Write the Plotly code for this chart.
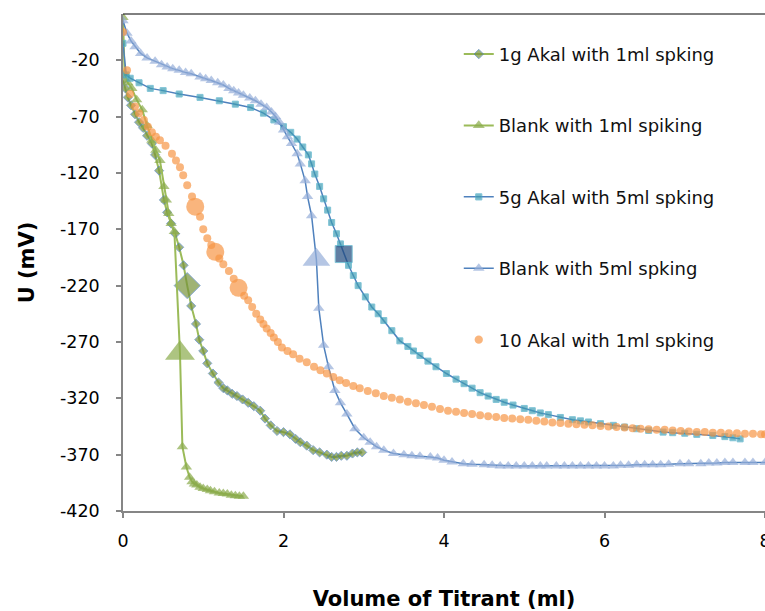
import plotly.graph_objects as go

# ---------------- data ----------------
s1_name = "1g Akal with 1ml spking"
s1_x = [0.00, 0.03, 0.06, 0.10, 0.15, 0.20, 0.25, 0.30, 0.36, 0.40, 0.45, 0.51, 0.55, 0.60, 0.65,
        0.70, 0.755, 0.80, 0.85, 0.91, 0.95, 1.00, 1.05, 1.12, 1.19, 1.25, 1.30, 1.36, 1.42, 1.49,
        1.56, 1.63, 1.71, 1.77, 1.84, 1.92, 2.00, 2.08, 2.15, 2.21, 2.29, 2.37, 2.45, 2.54, 2.60,
        2.66, 2.72, 2.79, 2.86, 2.92, 2.98]
s1_y = [-38, -45, -53, -60, -68, -75, -80, -87, -94, -104, -118, -144, -155, -165, -174,
        -186, -202, -220, -238, -254, -268, -278, -289, -298, -306, -311, -313, -316, -318, -321,
        -324, -327, -331, -338, -344, -349, -350, -352, -356, -359, -362, -366, -368, -370, -372,
        -372, -371, -371, -369, -368, -368]
s1_highlight = [0.80]

s2_name = "Blank with 1ml spiking"
s2_x = [0.00, 0.02, 0.06, 0.11, 0.17, 0.24, 0.30, 0.36, 0.41, 0.46, 0.51, 0.54, 0.57, 0.60, 0.64,
        0.71, 0.74, 0.79, 0.83, 0.86, 0.89, 0.92, 0.96, 1.00, 1.05, 1.09, 1.14, 1.20, 1.25, 1.30,
        1.35, 1.40, 1.45, 1.50]
s2_y = [18, -32, -40, -45, -55, -64, -78, -91, -100, -109, -132, -144, -156, -165, -172,
        -280, -363, -381, -390, -394, -396, -397, -399, -400, -401, -402, -403, -404, -404.5, -405,
        -406, -406.5, -407, -407]
s2_highlight = [0.71]

s3_name = "5g Akal with 5ml spking"
s3_x = [0.00, 0.04, 0.09, 0.20, 0.34, 0.50, 0.70, 0.96, 1.20, 1.40, 1.59, 1.75, 1.88, 2.00, 2.09,
        2.17, 2.24, 2.31, 2.35, 2.39, 2.45, 2.50, 2.55, 2.60, 2.66, 2.71, 2.75, 2.81, 2.87, 2.93,
        3.02, 3.10, 3.18, 3.25, 3.35, 3.45, 3.55, 3.62, 3.70, 3.80, 3.90, 4.03, 4.15, 4.25, 4.35,
        4.45, 4.55, 4.65, 4.75, 4.86, 5.00, 5.10, 5.20, 5.30, 5.45, 5.60, 5.70, 5.80, 5.95, 6.11,
        6.25, 6.40, 6.55, 6.73, 6.85, 7.00, 7.15, 7.35, 7.50, 7.60, 7.69]
s3_y = [-5, -33, -36, -40, -45, -47, -50, -53, -56, -59, -62, -67, -73, -79, -84,
        -90, -97, -104, -112, -121, -132, -143, -153, -164, -174, -183, -192, -202, -211, -220,
        -230, -239, -245, -251, -260, -269, -274, -278, -282, -287, -292, -298, -303, -307, -311,
        -315, -318, -321, -323.5, -326, -329, -331, -333, -334.5, -337, -339, -340, -341, -342.5, -344,
        -345.5, -347, -348.5, -350, -350.5, -351, -352, -353, -354, -355, -356]
s3_highlight = [2.75]

s4_name = "Blank with 5ml spking"
s4_x = [0.00, 0.05, 0.10, 0.15, 0.22, 0.30, 0.40, 0.48, 0.55, 0.62, 0.70, 0.78, 0.85, 0.96, 1.03,
        1.10, 1.18, 1.25, 1.32, 1.38, 1.44, 1.50, 1.58, 1.65, 1.72, 1.79, 1.85, 1.90, 1.95, 2.00,
        2.05, 2.10, 2.17, 2.21, 2.27, 2.30, 2.35, 2.41, 2.44, 2.50, 2.56, 2.64, 2.71, 2.79, 2.89,
        3.00, 3.08, 3.16, 3.25, 3.37, 3.50, 3.60, 3.70, 3.83, 3.92, 4.00, 4.10, 4.24, 4.35, 4.50,
        4.60, 4.70, 4.80, 4.90, 5.00, 5.10, 5.20, 5.28, 5.40, 5.50, 5.60, 5.70, 5.80, 5.90, 6.00,
        6.11, 6.20, 6.30, 6.40, 6.50, 6.60, 6.70, 6.80, 6.94, 7.05, 7.20, 7.30, 7.40, 7.50, 7.60,
        7.75, 7.85, 8.00]
s4_y = [15, 4, -3, -8, -14, -18, -21, -24, -26, -27.5, -29, -31, -32, -35, -36.5,
        -38, -40, -42, -45, -47, -49, -51, -53.5, -56, -59, -62, -66, -70, -75, -82,
        -88, -94, -103, -112, -127, -141, -158, -197, -240, -273, -292, -313, -324, -334, -347,
        -355, -359, -363, -366, -369, -370, -371, -371.5, -372, -373, -375, -376.5, -378, -378.5, -379,
        -379.5, -380, -380, -380, -380, -380, -380, -380, -380, -380, -380, -380, -380, -380, -380,
        -380, -379.5, -379.5, -379, -379, -379, -379, -378.5, -378, -378, -378, -377.5, -377.5, -377, -377,
        -377, -377, -377]
s4_highlight = [2.41]

s5_name = "10 Akal with 1ml spking"
s5_x = [0.00, 0.05, 0.09, 0.15, 0.20, 0.26, 0.31, 0.36, 0.41, 0.46, 0.53, 0.61, 0.66, 0.71, 0.75,
        0.80, 0.86, 0.90, 0.96, 1.00, 1.05, 1.10, 1.15, 1.20, 1.25, 1.32, 1.38, 1.44, 1.51, 1.56,
        1.61, 1.66, 1.71, 1.75, 1.79, 1.84, 1.88, 1.93, 1.98, 2.05, 2.12, 2.20, 2.29, 2.38, 2.46,
        2.54, 2.62, 2.70, 2.78, 2.87, 2.95, 3.05, 3.15, 3.25, 3.35, 3.45, 3.55, 3.65, 3.75, 3.85,
        3.95, 4.05, 4.15, 4.25, 4.35, 4.45, 4.55, 4.65, 4.75, 4.85, 4.95, 5.05, 5.15, 5.25, 5.35,
        5.45, 5.55, 5.65, 5.75, 5.85, 5.95, 6.05, 6.15, 6.25, 6.35, 6.45, 6.55, 6.65, 6.75, 6.85,
        6.95, 7.05, 7.15, 7.25, 7.35, 7.45, 7.55, 7.65, 7.75, 7.85, 7.95, 8.00]
s5_y = [5, -29, -50, -61, -67, -73, -79, -84, -88, -91, -96, -103, -109, -115, -122,
        -131, -141, -150, -159, -170, -178, -184, -190, -196, -201, -207, -214, -222, -229, -233,
        -239, -245, -250, -254, -258, -262, -266, -270, -275, -278, -281, -285, -288, -292, -295,
        -298, -301, -304, -306.5, -309, -311, -313.5, -315.5, -318, -319.5, -321, -323, -324.5, -326, -327.5,
        -329.5, -331, -332, -333, -334, -335, -336, -336.5, -337.5, -338, -338.5, -339, -340, -340.5, -341.5,
        -342, -342.5, -343, -343.5, -344, -344.5, -345, -345.5, -346, -346.5, -347, -347.5, -348, -348, -348.5,
        -349, -349.5, -350, -350, -350.5, -350.5, -351, -351, -351.5, -351.5, -352, -352]
s5_highlight = [0.90, 1.15, 1.44]

x_title = "Volume of Titrant (ml)"
y_title = "U (mV)"
x_ticks = [0, 2, 4, 6, 8]
x_tick_labels = ["0", "2", "4", "6", "8"]
y_ticks = [-420, -370, -320, -270, -220, -170, -120, -70, -20]
y_tick_labels = ["-420", "-370", "-320", "-270", "-220", "-170", "-120", "-70", "-20"]

# ---------------- styling ----------------
FONT = "DejaVu Sans, sans-serif"


def sizes(xs, hl, small, big):
    return [big if any(abs(v - h) < 1e-9 for h in hl) else small for v in xs]


def colors(xs, hl, normal, special):
    return [special if any(abs(v - h) < 1e-9 for h in hl) else normal for v in xs]


fig = go.Figure()

fig.add_trace(go.Scatter(
    x=s1_x, y=s1_y, name=s1_name, mode="lines+markers", legendgroup="a",
    line=dict(color="#9BBB59", width=2),
    marker=dict(symbol="diamond", size=sizes(s1_x, s1_highlight, 7, 20),
                color="#77933C", line=dict(color="#4F81BD", width=1)),
))
fig.add_trace(go.Scatter(
    x=s2_x, y=s2_y, name=s2_name, mode="lines+markers", legendgroup="b",
    line=dict(color="#9BBB59", width=2),
    marker=dict(symbol="triangle-up", size=sizes(s2_x, s2_highlight, 10, 26),
                color="#8AAB4C", line=dict(width=0)),
))
fig.add_trace(go.Scatter(
    x=s3_x, y=s3_y, name=s3_name, mode="lines+markers", legendgroup="c",
    line=dict(color="#4F81BD", width=1.5),
    marker=dict(symbol="square", size=sizes(s3_x, s3_highlight, 6, 17),
                color=colors(s3_x, s3_highlight, "#3F9DB3", "#1F497D"),
                line=dict(color="#4BACC6", width=1)),
))
fig.add_trace(go.Scatter(
    x=s4_x, y=s4_y, name=s4_name, mode="lines+markers", legendgroup="d",
    line=dict(color="#4F81BD", width=1.5),
    marker=dict(symbol="triangle-up", size=sizes(s4_x, s4_highlight, 10, 24),
                color="#95AED8", line=dict(width=0)),
))
fig.add_trace(go.Scatter(
    x=s5_x, y=s5_y, name=s5_name, mode="markers", legendgroup="e",
    marker=dict(symbol="circle", size=sizes(s5_x, s5_highlight, 8, 18),
                color="#F79646", line=dict(width=0)),
))

fig.add_shape(type="line", xref="paper", yref="paper", x0=0, x1=1, y0=1, y1=1,
              line=dict(color="black", width=1))

fig.update_layout(
    width=765, height=611,
    margin=dict(l=123, r=0, t=14, b=100, autoexpand=False),
    paper_bgcolor="white", plot_bgcolor="white",
    font=dict(family=FONT, size=17, color="#000000"),
    showlegend=True,
    legend=dict(x=0.523, y=0.956, xanchor="left", yanchor="top",
                bgcolor="rgba(0,0,0,0)", font=dict(size=18, family=FONT, color="#111111"),
                tracegroupgap=45, itemsizing="trace", traceorder="grouped"),
    xaxis=dict(
        range=[0, 8], tickvals=x_ticks, ticktext=x_tick_labels,
        showgrid=False, zeroline=False,
        showline=True, linecolor="#868686", linewidth=1.5,
        ticks="outside", ticklen=5, tickcolor="#868686", tickwidth=1.5,
        tickfont=dict(size=17.5, family=FONT), ticklabelstandoff=8,
        ticklabeloverflow="allow",
        title=dict(text="<b>" + x_title + "</b>", font=dict(size=21, family=FONT), standoff=45),
        automargin=False,
    ),
    yaxis=dict(
        range=[-420, 21], tickvals=y_ticks, ticktext=y_tick_labels,
        showgrid=False, zeroline=False,
        showline=True, linecolor="#868686", linewidth=1.5,
        ticks="outside", ticklen=5, tickcolor="#868686", tickwidth=1.5,
        tickfont=dict(size=17.5, family=FONT), ticklabelstandoff=13,
        title=dict(text="<b>" + y_title + "</b>", font=dict(size=21, family=FONT), standoff=20),
        automargin=False,
    ),
)

fig.write_html("out.html")
